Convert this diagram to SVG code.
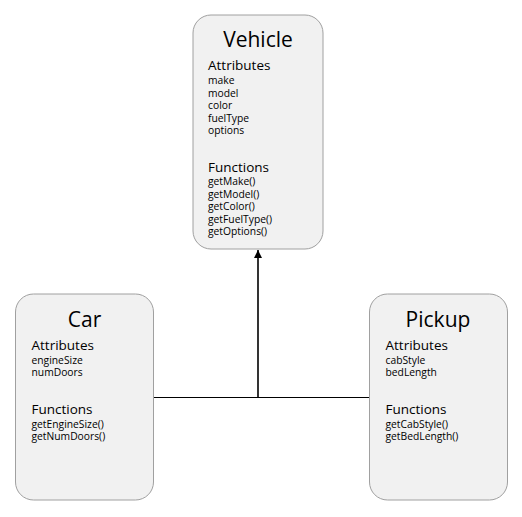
<svg xmlns="http://www.w3.org/2000/svg" width="522" height="517" viewBox="0 0 522 517">
<style>
.box{fill:#f1f1f1;stroke:#a0a0a0;stroke-width:1}
text{font-family:"Open Sans","Noto Sans",sans-serif;fill:#000}
.t{font-size:21px;text-anchor:middle}
.h{font-size:13.5px}
.i{font-size:10.3px}
.c{stroke:#000;fill:none}
</style>
<defs>
<marker id="arr" markerWidth="8" markerHeight="8" refX="8" refY="4" orient="auto" markerUnits="userSpaceOnUse">
<path d="M0,0 L8,4 L0,8 Z" fill="#000"/>
</marker>
</defs>
<rect width="522" height="517" fill="#fff"/>
<g id="connectors">
<line class="c" x1="153.5" y1="397.5" x2="369.5" y2="397.5" stroke-width="1.2"/>
<line class="c" x1="258" y1="397.5" x2="258" y2="250" stroke-width="1.6" marker-end="url(#arr)"/>
</g>
<g id="vehicle">
<rect class="box" x="193" y="15" width="130" height="234" rx="18"/>
<text class="t" x="258" y="47">Vehicle</text>
<text class="h" x="208" y="70">Attributes</text>
<text class="i" x="208" y="84">make</text>
<text class="i" x="208" y="96.5">model</text>
<text class="i" x="208" y="109">color</text>
<text class="i" x="208" y="121.5">fuelType</text>
<text class="i" x="208" y="134">options</text>
<text class="h" x="208" y="171.5">Functions</text>
<text class="i" x="208" y="185">getMake()</text>
<text class="i" x="208" y="197.5">getModel()</text>
<text class="i" x="208" y="210">getColor()</text>
<text class="i" x="208" y="222.5">getFuelType()</text>
<text class="i" x="208" y="235">getOptions()</text>
</g>
<g id="car">
<rect class="box" x="15.5" y="294" width="138" height="206" rx="18"/>
<text class="t" x="84.5" y="327">Car</text>
<text class="h" x="31.5" y="350">Attributes</text>
<text class="i" x="31.5" y="363.5">engineSize</text>
<text class="i" x="31.5" y="376">numDoors</text>
<text class="h" x="31.5" y="414">Functions</text>
<text class="i" x="31.5" y="427.5">getEngineSize()</text>
<text class="i" x="31.5" y="440">getNumDoors()</text>
</g>
<g id="pickup">
<rect class="box" x="369.5" y="294" width="138" height="206" rx="18"/>
<text class="t" x="438" y="327">Pickup</text>
<text class="h" x="385.5" y="350">Attributes</text>
<text class="i" x="385.5" y="363.5">cabStyle</text>
<text class="i" x="385.5" y="376">bedLength</text>
<text class="h" x="385.5" y="414">Functions</text>
<text class="i" x="385.5" y="427.5">getCabStyle()</text>
<text class="i" x="385.5" y="440">getBedLength()</text>
</g>
</svg>
